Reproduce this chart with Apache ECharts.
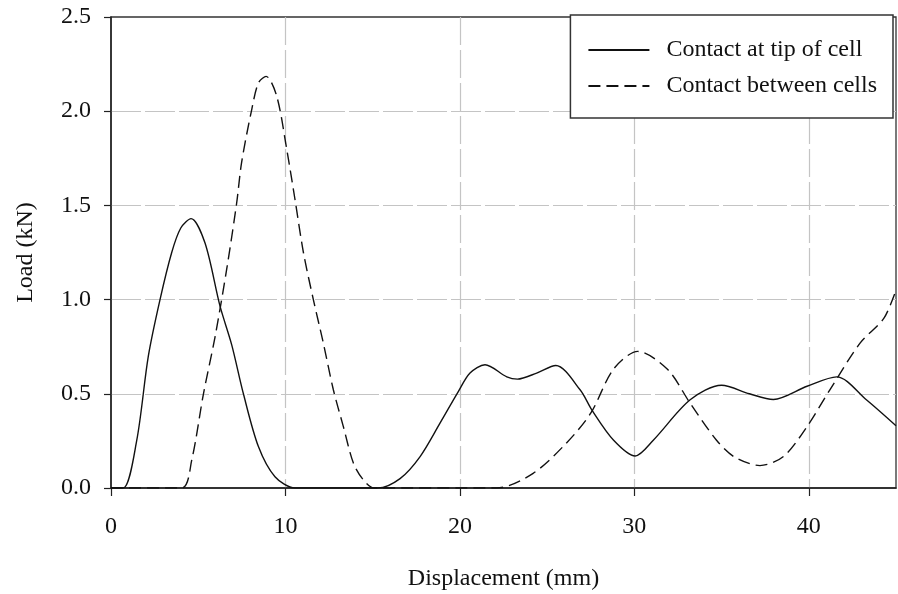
<!DOCTYPE html>
<html>
<head>
<meta charset="utf-8">
<script src="https://cdn.jsdelivr.net/npm/echarts@6/dist/echarts.min.js"></script>
<style>
  html, body { margin: 0; padding: 0; background: #fff; }
  #main { width: 898px; height: 594px; }
</style>
</head>
<body>
<div id="main"></div>
<script>
// 读图得到的数据
var tipX = [0, 0.7, 1.47, 2.14, 2.81, 3.48, 4.0, 4.59, 5.39, 6.25, 6.92, 7.59, 8.45, 9.4, 10.55,
  15.3, 16.57, 17.72, 18.86, 19.9, 20.58, 21.44, 22.69, 23.3, 24.4, 25.5, 26.9, 27.56, 28.8,
  30.05, 31.1, 33.2, 35.0, 36.6, 37.97, 39.9, 41.6, 43.3, 45];
var tipY = [0, 0, 0.25, 0.70, 1.0, 1.25, 1.38, 1.43, 1.30, 0.965, 0.76, 0.50, 0.22, 0.06, 0,
  0, 0.05, 0.167, 0.344, 0.51, 0.61, 0.654, 0.59, 0.578, 0.61, 0.65, 0.52, 0.415, 0.255,
  0.17, 0.255, 0.468, 0.545, 0.50, 0.47, 0.54, 0.59, 0.468, 0.33];

var betweenX = [0, 4.05, 4.63, 5.3, 5.96, 6.63, 7.2, 7.49, 8.07, 8.45, 8.89, 9.5, 10.07, 10.55,
  11.03, 11.6, 12.17, 12.75, 13.32, 13.9, 14.47, 15.1, 22.1, 24.2, 26.1, 27.5, 28.8, 30.2,
  31.9, 33.2, 34.7, 35.7, 37.2, 38.55, 39.9, 41.2, 42.95, 44.3, 45];
var betweenY = [0, 0, 0.149, 0.50, 0.80, 1.16, 1.51, 1.73, 2.01, 2.15, 2.185, 2.08, 1.80, 1.53,
  1.25, 1.0, 0.77, 0.52, 0.326, 0.131, 0.043, 0, 0, 0.078, 0.238, 0.397, 0.63, 0.725,
  0.63, 0.45, 0.255, 0.167, 0.119, 0.167, 0.326, 0.52, 0.77, 0.90, 1.05];

var seriesNames = ['Contact at tip of cell', 'Contact between cells'];
var xTicks = [0, 10, 20, 30, 40];
var yTicks = [0, 0.5, 1.0, 1.5, 2.0, 2.5];

function zip(xs, ys) {
  return xs.map(function (x, i) { return [x, ys[i]]; });
}

var font = '"Liberation Serif", "Times New Roman", serif';

var myChart = echarts.init(document.getElementById('main'));

var option = {
  animation: false,
  backgroundColor: '#fff',
  grid: {
    left: 111, right: 2, top: 17, bottom: 106,
    containLabel: false,
    outerBoundsMode: 'none',
    show: true,
    borderColor: '#333',
    borderWidth: 1.3
  },
  legend: {
    orient: 'vertical',
    right: 5,
    top: 15,
    padding: [23, 16, 20, 17],
    itemGap: 12,
    itemWidth: 61,
    itemHeight: 24,
    backgroundColor: '#fff',
    borderColor: '#333',
    borderWidth: 1.5,
    borderRadius: 0,
    data: seriesNames,
    itemStyle: { color: 'transparent', borderWidth: 0, opacity: 0 },
    textStyle: {
      fontFamily: font,
      fontSize: 24,
      color: '#111',
      padding: [0, 0, 0, 12]
    }
  },
  xAxis: {
    type: 'value',
    min: xTicks[0],
    max: 45,
    interval: 10,
    name: 'Displacement (mm)',
    nameLocation: 'middle',
    nameGap: 79,
    nameTextStyle: { fontFamily: font, fontSize: 24, color: '#111' },
    axisLine: { show: true, lineStyle: { color: '#222', width: 1.5 } },
    axisTick: { show: true, inside: false, length: 8, lineStyle: { color: '#222', width: 1.2 } },
    axisLabel: {
      margin: 27,
      fontFamily: font,
      fontSize: 24,
      color: '#111',
      showMaxLabel: false,
      formatter: function (v) { return xTicks.indexOf(v) >= 0 ? String(v) : ''; }
    },
    splitLine: {
      show: true, showMinLine: false, showMaxLine: false,
      lineStyle: { color: '#c4c4c4', width: 1.2, type: [28, 5] }
    }
  },
  yAxis: {
    type: 'value',
    min: yTicks[0],
    max: yTicks[yTicks.length - 1],
    interval: 0.5,
    name: 'Load (kN)',
    nameLocation: 'middle',
    nameGap: 73,
    nameTextStyle: { fontFamily: font, fontSize: 24, color: '#111' },
    axisLine: { show: true, lineStyle: { color: '#222', width: 1.5 } },
    axisTick: { show: true, inside: false, length: 7, lineStyle: { color: '#222', width: 1.2 } },
    axisLabel: {
      margin: 20,
      fontFamily: font,
      fontSize: 24,
      color: '#111',
      formatter: function (v) { return v.toFixed(1); }
    },
    splitLine: {
      show: true, showMinLine: false, showMaxLine: false,
      lineStyle: { color: '#c4c4c4', width: 1.2, type: [30, 4] }
    }
  },
  series: [{
    name: seriesNames[0],
    type: 'line',
    data: zip(tipX, tipY),
    smooth: 0.3,
    symbol: 'none',
    showSymbol: false,
    lineStyle: { color: '#111', width: 1.4, type: 'solid' }
  }, {
    name: seriesNames[1],
    type: 'line',
    data: zip(betweenX, betweenY),
    smooth: 0.3,
    symbol: 'none',
    showSymbol: false,
    lineStyle: { color: '#111', width: 1.4, type: [12, 6] }
  }]
};

myChart.setOption(option);
</script>
</body>
</html>
